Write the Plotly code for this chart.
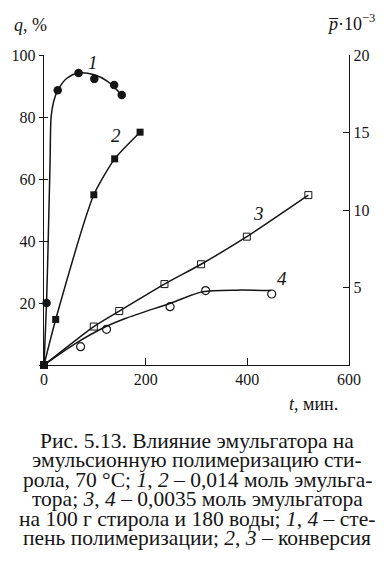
import plotly.graph_objects as go

# ---- data (t in min; q in %, p in units of 10^3) ----
c1_t = [5, 27, 68, 99, 138, 153]
c1_p = [4.0, 17.72, 18.84, 18.46, 18.06, 17.42]
c1_line_t = [0, 5, 9, 12, 14, 19, 27, 45, 68, 99, 125, 153]
c1_line_p = [0, 4.0, 9.0, 13.2, 16.0, 17.0, 17.72, 18.5, 18.84, 18.72, 18.3, 17.42]

c2_t = [0, 23, 98, 139, 189]
c2_q = [0, 14.7, 54.9, 66.5, 75.1]

c3_t = [0, 98, 148, 237, 309, 399, 520]
c3_q = [0, 12.4, 17.4, 26.1, 32.5, 41.4, 54.8]

c4_t = [72, 123, 248, 318, 448]
c4_p = [1.18, 2.3, 3.76, 4.8, 4.58]
c4_line_t = [0, 60, 120, 160, 250, 312, 380, 447]
c4_line_p = [0, 1.35, 2.45, 3.0, 4.0, 4.72, 4.83, 4.8]

x_ticks = [0, 200, 400, 600]
q_ticks = [0, 20, 40, 60, 80, 100]
p_ticks = [5, 10, 15, 20]

caption = [
    "Рис. 5.13. Влияние эмульгатора на",
    "эмульсионную полимеризацию сти-",
    "рола, 70 °С; <i>1</i>, <i>2</i> – 0,014 моль эмульга-",
    "тора; <i>3</i>, <i>4</i> – 0,0035 моль эмульгатора",
    "на 100 г стирола и 180 воды; <i>1</i>, <i>4</i> – сте-",
    "пень полимеризации; <i>2</i>, <i>3</i> – конверсия",
]

FONT = "Liberation Serif"
INK = "#151515"

W, H = 388, 574
L, R, T, B = 37.5, 349, 55, 365


def px(x, y):
    return (x - L) / (R - L), (B - y) / (B - T)


fig = go.Figure()
lw = 1.5
# curve 1 (p, right axis)
fig.add_trace(go.Scatter(x=c1_line_t, y=c1_line_p, yaxis="y2", mode="lines",
                         line=dict(color=INK, width=lw, shape="spline", smoothing=0.8),
                         cliponaxis=False, hoverinfo="skip"))
fig.add_trace(go.Scatter(x=c1_t, y=c1_p, yaxis="y2", mode="markers",
                         marker=dict(symbol="circle", size=8.5, color=INK),
                         cliponaxis=False))
# curve 2 (q)
fig.add_trace(go.Scatter(x=c2_t, y=c2_q, mode="lines+markers",
                         line=dict(color=INK, width=lw, shape="spline", smoothing=0.6),
                         marker=dict(symbol="square", size=7, color=INK),
                         cliponaxis=False))
# curve 3 (q)
fig.add_trace(go.Scatter(x=c3_t, y=c3_q, mode="lines+markers",
                         line=dict(color=INK, width=lw, shape="spline", smoothing=0.6),
                         marker=dict(symbol="square-open", size=7, color=INK, line=dict(width=1)),
                         cliponaxis=False))
# curve 4 (p, right axis)
fig.add_trace(go.Scatter(x=c4_line_t, y=c4_line_p, yaxis="y2", mode="lines",
                         line=dict(color=INK, width=lw, shape="spline", smoothing=0.8),
                         cliponaxis=False, hoverinfo="skip"))
fig.add_trace(go.Scatter(x=c4_t, y=c4_p, yaxis="y2", mode="markers",
                         marker=dict(symbol="circle-open", size=8, color=INK, line=dict(width=1.2)),
                         cliponaxis=False))
# origin marker
fig.add_trace(go.Scatter(x=[0], y=[0], mode="markers",
                         marker=dict(symbol="square", size=8, color=INK), cliponaxis=False))

annotations = []


def note(text, x, y, size):
    xp, yp = px(x, y)
    annotations.append(dict(text=text, x=xp, y=yp, xref="paper", yref="paper",
                            xanchor="center", yanchor="middle", showarrow=False,
                            font=dict(family=FONT, size=size, color=INK)))


# curve numbers
for txt, (ax_, ay_) in [("1", (88, 63)), ("2", (111, 135)), ("3", (257, 213)), ("4", (281, 278))]:
    note(f"<i>{txt}</i>", ax_, ay_, 19)
# axis titles
note("<i>q</i>, %", 24, 25, 18)
note("<i>p̅</i>·10<sup>−3</sup>", 351, 22, 18)
note("<i>t</i>, мин.", 313, 404, 18)
# caption
for i, line in enumerate(caption):
    note(line, 194, 441 + i * 19.4, 21.5)

tickfont = dict(family=FONT, size=16, color=INK)
fig.update_layout(
    width=W, height=H,
    margin=dict(l=L, r=W - R, t=T, b=H - B, pad=0),
    paper_bgcolor="white", plot_bgcolor="white",
    showlegend=False,
    xaxis=dict(range=[0, 600], tickvals=x_ticks, ticks="inside", ticklen=7, tickwidth=1.3,
               tickcolor=INK, showline=True, linecolor=INK, linewidth=1.4, showgrid=False,
               zeroline=False, tickfont=tickfont, mirror=False),
    yaxis=dict(range=[0, 100], tickvals=q_ticks, ticktext=["", "20", "40", "60", "80", "100"],
               ticks="outside", ticklen=4, tickwidth=1.3, tickcolor=INK, showline=True,
               linecolor=INK, linewidth=1.4, showgrid=False, zeroline=False, tickfont=tickfont),
    yaxis3=dict(range=[0, 100], tickvals=q_ticks[1:], overlaying="y", side="left",
                ticks="inside", ticklen=4, tickwidth=1.3, tickcolor=INK, showline=False,
                showticklabels=False, showgrid=False, zeroline=False),
    yaxis2=dict(range=[0, 20], tickvals=p_ticks, overlaying="y", side="right",
                ticks="inside", ticklen=6, tickwidth=1.3, tickcolor=INK, showline=True,
                linecolor=INK, linewidth=1.4, showgrid=False, zeroline=False, tickfont=tickfont),
    annotations=annotations,
)
# dummy trace so the third axis is drawn
fig.add_trace(go.Scatter(x=[None], y=[None], yaxis="y3", showlegend=False, hoverinfo="skip"))

fig.write_html("out.html")
